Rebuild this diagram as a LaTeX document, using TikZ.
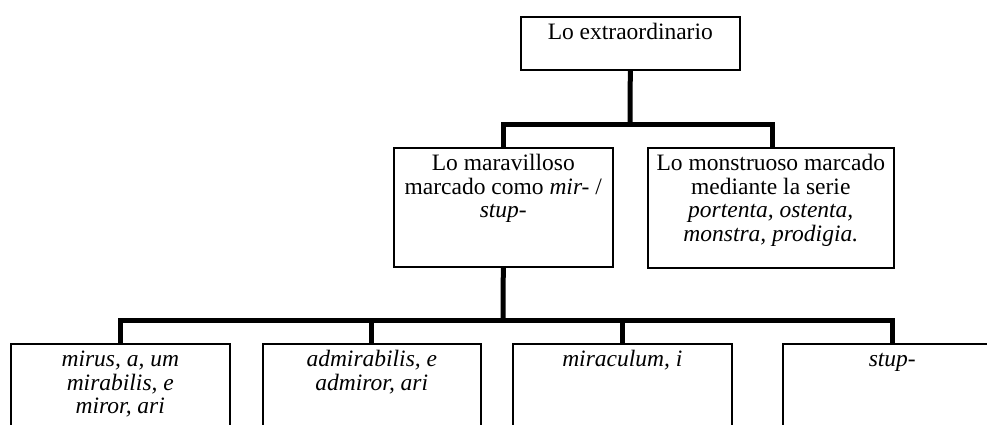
\documentclass[tikz,border=0pt]{standalone}
\usepackage{fontspec}
\setmainfont{Liberation Serif}
\newcommand\bxtext[3]{\parbox[c][#2][t]{#1}{\centering\fontsize{23.5}{23.5}\selectfont\rule{0pt}{23pt}#3\par}}
\begin{document}
\begin{tikzpicture}[x=1pt,y=-1pt,
  box/.style={draw,line width=1.6pt,inner sep=0pt,anchor=north west},
  conn/.style={line width=5pt,line join=miter}]
\useasboundingbox (0,0) rectangle (987,425);
\clip (0,0) rectangle (987,425);
\node[box] (top) at (520,16) {\bxtext{219pt}{53pt}{Lo extraordinario}};
\node[box] (mar) at (393,147) {\bxtext{219pt}{119pt}{Lo maravilloso\\marcado como \textit{mir-} /\\\textit{stup-}}};
\node[box] (mon) at (647,147) {\bxtext{246pt}{120pt}{Lo monstruoso marcado\\mediante la serie\\\textit{portenta, ostenta,}\\\textit{monstra, prodigia.}}};
\node[box] (b1) at (10,343) {\bxtext{219pt}{110pt}{\itshape mirus, a, um\\mirabilis, e\\miror, ari}};
\node[box] (b2) at (262,343) {\bxtext{218pt}{110pt}{\itshape admirabilis, e\\admiror, ari}};
\node[box] (b3) at (512,343) {\bxtext{219pt}{110pt}{\itshape miraculum, i}};
\node[box] (b4) at (782,343) {\bxtext{219pt}{110pt}{\itshape stup-}};
\coordinate (j1) at (630,125);
\coordinate (j2) at (503,320);
\draw[conn] (top.south) -- (j1);
\draw[conn] (mar.north) |- (j1) -| ([xshift=2pt]mon.north);
\draw[conn] (mar.south) -- (j2);
\draw[conn] (b1.north) |- (j2) -| (b4.north);
\draw[conn] (b2.north) -- (b2.north |- j2);
\draw[conn] (b3.north) -- (b3.north |- j2);
\end{tikzpicture}
\end{document}
